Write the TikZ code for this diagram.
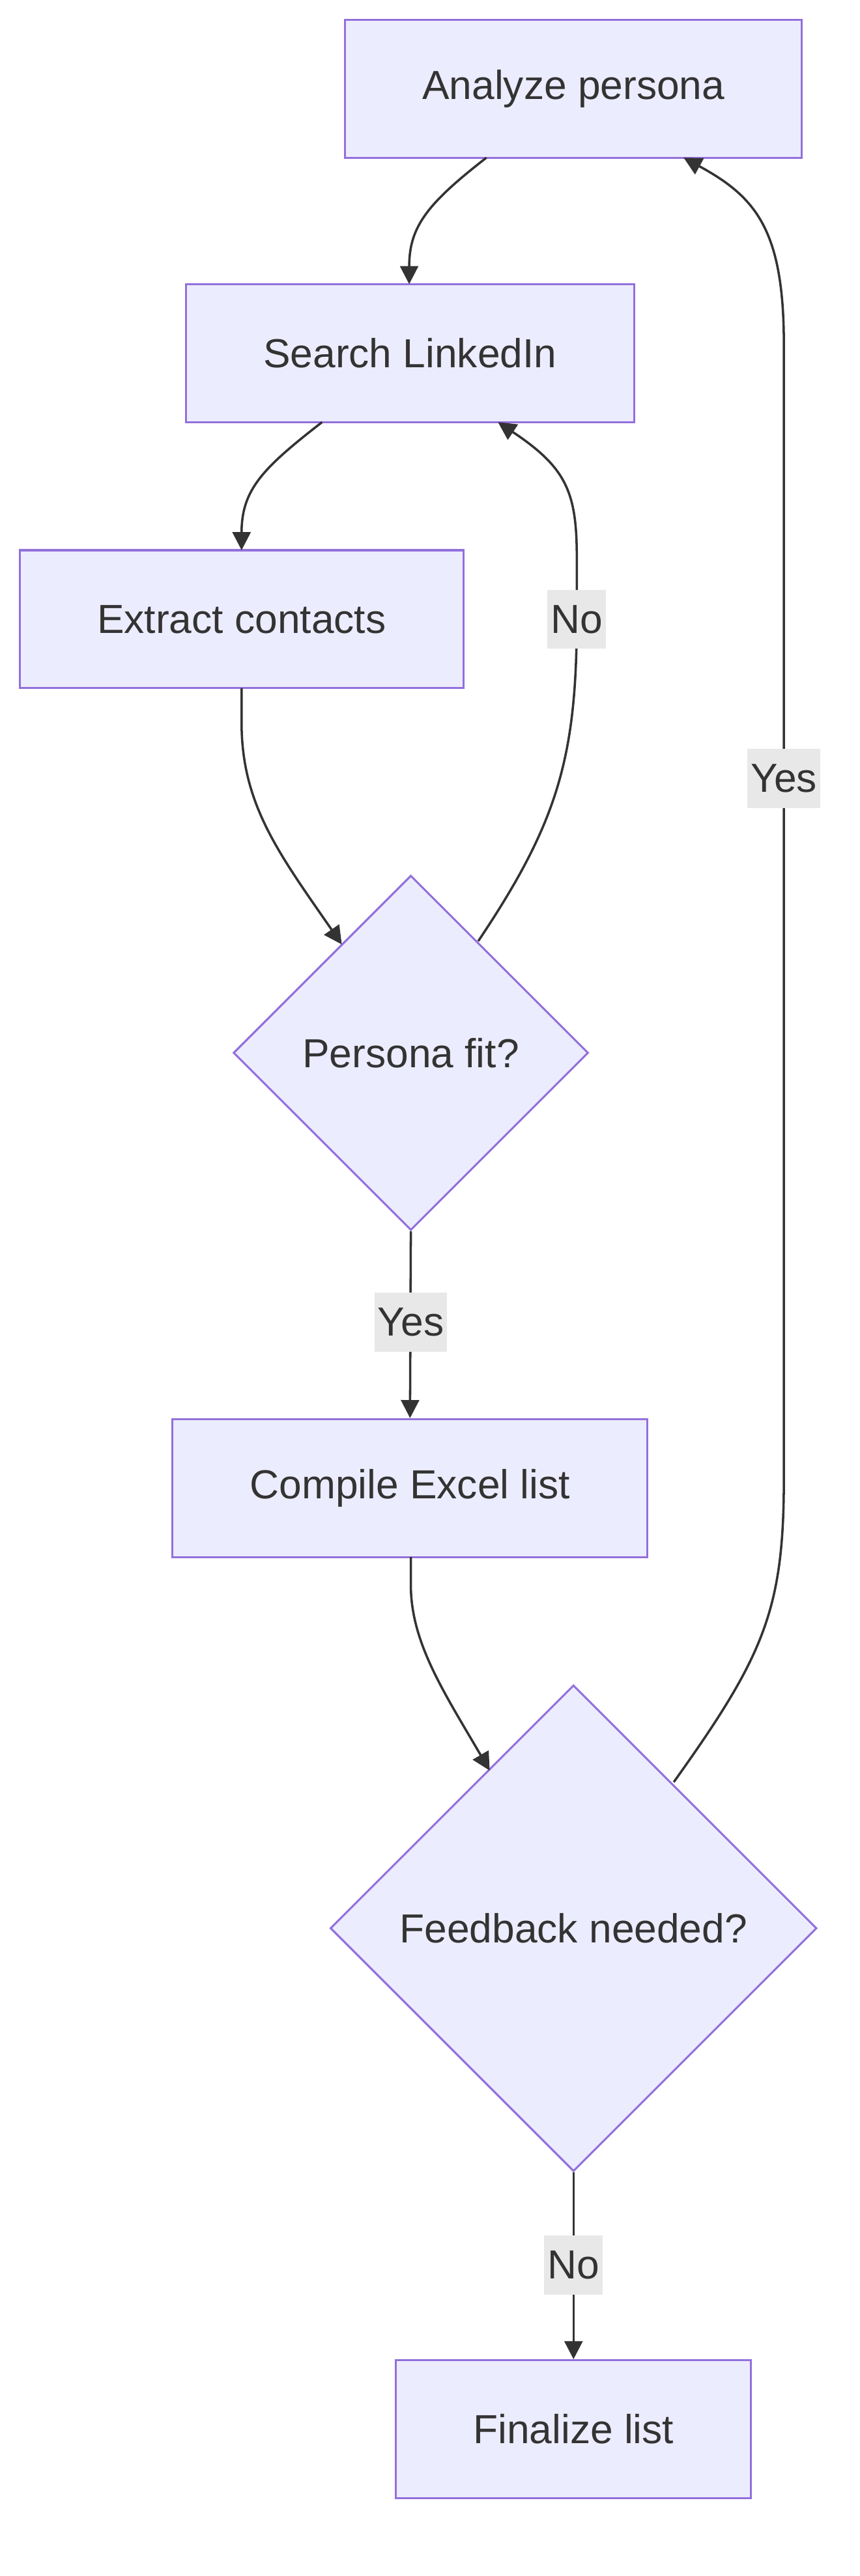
\documentclass[tikz,border=0pt]{standalone}
\usepackage{fontspec}
\setmainfont{Liberation Sans}
\usetikzlibrary{shapes.geometric,arrows.meta}
\definecolor{nfill}{HTML}{ECECFF}
\definecolor{nstroke}{HTML}{9370DB}
\definecolor{ln}{HTML}{333333}
\definecolor{lbg}{HTML}{E8E8E8}
\begin{document}
\begin{tikzpicture}[x=1pt,y=-1pt,
  box/.style={draw=nstroke,fill=nfill,line width=1.2pt,minimum height=84pt,text=ln,font=\fontsize{24.7}{29}\selectfont,inner sep=0pt},
  dia/.style={diamond,draw=nstroke,fill=nfill,line width=1.2pt,text=ln,font=\fontsize{24.7}{29}\selectfont,inner sep=0pt},
  arr/.style={draw=ln,line width=1.4pt,-{Triangle[length=11pt,width=11pt]}},
  lab/.style={fill=lbg,text=ln,font=\fontsize{24.7}{29}\selectfont,inner sep=2pt,minimum height=36pt}]
\useasboundingbox (0,0) rectangle (523.3,1568.4);
\node[box,minimum width=278pt] (a) at (349,54) {Analyze persona};
\node[box,minimum width=273pt] (s) at (249.5,215) {Search LinkedIn};
\node[box,minimum width=270pt] (e) at (147,377) {Extract contacts};
\node[dia,minimum width=216pt,minimum height=216pt] (p) at (250,641) {Persona fit?};
\node[box,minimum width=289pt] (c) at (249.5,906) {Compile Excel list};
\node[dia,minimum width=296pt,minimum height=296pt] (f) at (349,1174) {Feedback needed?};
\node[box,minimum width=216pt] (z) at (349,1479) {Finalize list};
\coordinate (a1) at (296,96); \coordinate (s1) at (249,173);
\draw[arr] (a1) .. controls (260,124) and (249,138) .. (s1);
\coordinate (s2) at (196,257); \coordinate (e1) at (147,335);
\draw[arr] (s2) .. controls (160,285) and (147,298) .. (e1);
\coordinate (e2) at (147,419); \coordinate (p1) at (208,575);
\draw[arr] (e2) -- (147,440) .. controls (147,490) and (170,520) .. (p1);
\coordinate (p2) at (291,573); \coordinate (s3) at (303,257);
\draw[arr] (p2) .. controls (340,500) and (351,460) .. (351,375) -- (351,340) .. controls (351,300) and (345,285) .. (s3);
\node[lab] (ln1) at (351,377) {No};
\draw[arr] (p.south) -- (c.north);
\node[lab] (ly1) at (250,805) {Yes};
\coordinate (c2) at (250,948); \coordinate (f1) at (298,1078);
\draw[arr] (c2) -- (250,965) .. controls (250,1000) and (270,1030) .. (f1);
\coordinate (f2) at (410,1085); \coordinate (a2) at (416,96);
\draw[arr] (f2) .. controls (465,1008) and (477,980) .. (477,900) -- (477,210) .. controls (477,140) and (460,120) .. (a2);
\node[lab] (ly2) at (477,474) {Yes};
\draw[arr] (f.south) -- (z.north);
\node[lab] (ln2) at (349,1379) {No};
\end{tikzpicture}
\end{document}
